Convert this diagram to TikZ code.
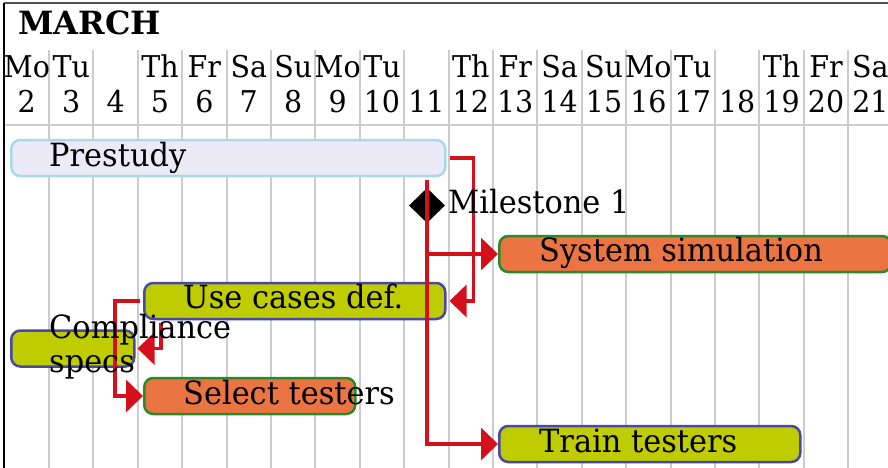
\documentclass[tikz,border=0pt]{standalone}
\usepackage{fontspec}
\setmainfont{DejaVu Serif}[FakeStretch=0.95]
\newfontfamily\monthfont{DejaVu Serif}
\usetikzlibrary{arrows.meta,shapes.geometric}

\definecolor{gridgray}{HTML}{CCCCCC}
\definecolor{framegray}{HTML}{505050}
\definecolor{depred}{HTML}{D4101C}
\definecolor{lavfill}{HTML}{ECEAF6}
\definecolor{lavedge}{HTML}{A8D8EA}
\definecolor{orfill}{HTML}{EB7443}
\definecolor{oredge}{HTML}{2A8A2A}
\definecolor{ygfill}{HTML}{BFCC00}
\definecolor{ygedge}{HTML}{4848A8}

\tikzset{
  gridline/.style={draw=gridgray, line width=2pt},
  bar/.style={rounded corners=9pt, line width=2.5pt, minimum height=36pt,
              inner sep=0pt, anchor=west},
  prebar/.style={bar, draw=lavedge, fill=lavfill},
  orbar/.style={bar, draw=oredge, fill=orfill},
  ygbar/.style={bar, draw=ygedge, fill=ygfill},
  dep/.style={draw=depred, line width=3.5pt,
              -{Triangle[length=17pt,width=32pt]}},
  daytext/.style={anchor=base, inner sep=0pt, font=\fontsize{30}{30}\selectfont},
  bartext/.style={anchor=base west, inner sep=0pt, font=\fontsize{32}{32}\selectfont},
}

\begin{document}
\begin{tikzpicture}[x=1pt, y=-1pt]
\useasboundingbox (0,0) rectangle (888,468);

% day columns
\foreach \k in {1,...,19}
  \draw[gridline] ({4.6+\k*44.4},50) -- ({4.6+\k*44.4},468);
\draw[gridline] (4,125) -- (888,125);

% frame
\draw[framegray, line width=2pt] (4,3) -- (888,3);
\draw[black, line width=1.6pt] (4,3) -- (4,468);

% month and day header
\node[anchor=base west, inner sep=0pt, font=\monthfont\fontsize{32}{32}\selectfont\bfseries]
  (month) at (18,35) {MARCH};
\foreach \d/\w in {2/Mo,3/Tu,5/Th,6/Fr,7/Sa,8/Su,9/Mo,10/Tu,12/Th,13/Fr,
                   14/Sa,15/Su,16/Mo,17/Tu,19/Th,20/Fr,21/Sa}
  \node[daytext] (wd\d) at ({26.8+(\d-2)*44.4},78) {\w};
\foreach \d in {2,...,21}
  \node[daytext] (dn\d) at ({26.8+(\d-2)*44.4},113) {\d};

% task bars
\node[prebar, minimum width=434pt] (pre)   at (10,158) {};
\node[orbar,  minimum width=392pt] (sys)   at (498,254) {};
\node[ygbar,  minimum width=301pt] (uc)    at (143,301) {};
\node[ygbar,  minimum width=123pt] (comp)  at (10,348.5) {};
\node[orbar,  minimum width=211pt] (sel)   at (143,396) {};
\node[ygbar,  minimum width=301pt] (train) at (498,444) {};

% milestone
\node[diamond, fill=black, inner sep=0pt, minimum width=36pt, minimum height=35pt]
  (ms) at (427,205.5) {};

% dependencies
\coordinate (msout) at (427,180);
\draw[dep] ([xshift=3pt]pre.east) -- ([xshift=27pt]pre.east) |- ([xshift=3pt]uc.east);
\draw[dep] (msout) |- (sys.west);
\draw[dep] (msout) |- (train.west);
\draw[dep] ([xshift=-3pt]uc.west) -- ([xshift=-28pt]uc.west) |- (sel.west);
\draw[dep] ([xshift=18pt,yshift=-3pt]uc.south west) |- ([xshift=2pt]comp.east);

% labels
\node[bartext] (pret)   at (49,166)  {Prestudy};
\node[bartext] (mst)    at (448,213) {Milestone 1};
\node[bartext] (syst)   at (539,261) {System simulation};
\node[bartext] (uct)    at (183,308) {Use cases def.};
\node[bartext] (compt1) at (49,338)  {Compliance};
\node[bartext] (compt2) at (49,372)  {specs};
\node[bartext] (selt)   at (183,404) {Select testers};
\node[bartext] (traint) at (539,452) {Train testers};
\end{tikzpicture}
\end{document}
